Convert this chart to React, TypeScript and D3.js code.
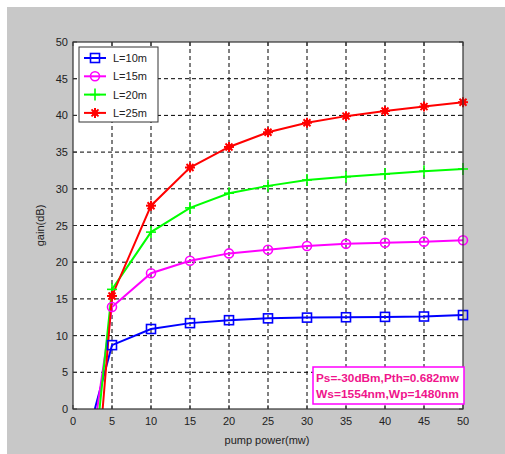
import React from "react";
import * as d3 from "d3";

const pumpPower = [5, 10, 15, 20, 25, 30, 35, 40, 45, 50];
const gainL10 = [8.7, 10.9, 11.7, 12.1, 12.35, 12.45, 12.5, 12.55, 12.6, 12.8];
const gainL15 = [13.9, 18.5, 20.2, 21.2, 21.7, 22.2, 22.5, 22.65, 22.8, 23.0];
const gainL20 = [16.3, 24.1, 27.4, 29.4, 30.4, 31.2, 31.65, 32.0, 32.4, 32.7];
const gainL25 = [15.4, 27.7, 32.9, 35.7, 37.7, 39.0, 39.9, 40.6, 41.2, 41.8];
// pump power where each curve crosses 0 dB (threshold start of line)
const zeroCross = [2.8, 3.1, 3.4, 3.8];
const seriesNames = ["L=10m", "L=15m", "L=20m", "L=25m"];
const seriesColors = ["#0000ff", "#ff00ff", "#00ff00", "#ff0000"];
const markerTypes = ["square", "circle", "plus", "star"];
const xTicks = [0, 5, 10, 15, 20, 25, 30, 35, 40, 45, 50];
const yTicks = [0, 5, 10, 15, 20, 25, 30, 35, 40, 45, 50];
const annotation = ["Ps=-30dBm,Pth=0.682mw", "Ws=1554nm,Wp=1480nm"];

function Marker({ type, x, y, color }: { type: string; x: number; y: number; color: string }) {
  if (type === "square")
    return <rect x={x - 4.5} y={y - 4.5} width={9} height={9} fill="none" stroke={color} strokeWidth={1.6} />;
  if (type === "circle")
    return <circle cx={x} cy={y} r={4.5} fill="none" stroke={color} strokeWidth={1.6} />;
  if (type === "plus")
    return (
      <g stroke={color} strokeWidth={1.6}>
        <line x1={x - 5} x2={x + 5} y1={y} y2={y} />
        <line x1={x} x2={x} y1={y - 6} y2={y + 6} />
      </g>
    );
  return (
    <g stroke={color} strokeWidth={2}>
      <line x1={x - 5} x2={x + 5} y1={y} y2={y} />
      <line x1={x} x2={x} y1={y - 5} y2={y + 5} />
      <line x1={x - 3.5} x2={x + 3.5} y1={y - 3.5} y2={y + 3.5} />
      <line x1={x - 3.5} x2={x + 3.5} y1={y + 3.5} y2={y - 3.5} />
      <circle cx={x} cy={y} r={3} fill={color} stroke="none" />
    </g>
  );
}

export default function App() {
  const W = 505, H = 454;
  const left = 73, right = 463, top = 42, bottom = 409;
  const x = d3.scaleLinear().domain([0, 50]).range([left, right]);
  const y = d3.scaleLinear().domain([0, 50]).range([bottom, top]);
  const all = [gainL10, gainL15, gainL20, gainL25];
  const line = d3.line<[number, number]>().x((d) => x(d[0])).y((d) => y(d[1]));
  const font = "'Liberation Sans', Arial, sans-serif";

  return (
    <svg width={W} height={H} style={{ position: "absolute", left: 0, top: 0 }}>
      <rect x={0} y={0} width={W} height={H} fill="#ffffff" />
      <rect x={7} y={7} width={W - 7} height={H - 7} fill="#c8c8c8" />
      <rect x={left} y={top} width={right - left} height={bottom - top} fill="#ffffff" />
      {/* grid */}
      <g stroke="#000" strokeWidth={1} strokeDasharray="4,3">
        {xTicks.filter((t) => t > 0 && t < 50).map((t) => (
          <line key={"gx" + t} x1={x(t)} x2={x(t)} y1={top} y2={bottom} />
        ))}
        {yTicks.filter((t) => t > 0 && t < 50).map((t) => (
          <line key={"gy" + t} x1={left} x2={right} y1={y(t)} y2={y(t)} />
        ))}
      </g>
      {/* series */}
      <g clipPath="url(#clip)">
        <clipPath id="clip">
          <rect x={left} y={top} width={right - left} height={bottom - top} />
        </clipPath>
        {all.map((vals, i) => {
          const pts: [number, number][] = [[zeroCross[i], 0], ...pumpPower.map((p, j) => [p, vals[j]] as [number, number])];
          return <path key={"s" + i} d={line(pts) || ""} fill="none" stroke={seriesColors[i]} strokeWidth={2} />;
        })}
      </g>
      {all.map((vals, i) =>
        pumpPower.map((p, j) => (
          <Marker key={"m" + i + "-" + j} type={markerTypes[i]} x={x(p)} y={y(vals[j])} color={seriesColors[i]} />
        ))
      )}
      {/* axes box */}
      <rect x={left} y={top} width={right - left} height={bottom - top} fill="none" stroke="#333" strokeWidth={1.2} />
      {/* ticks */}
      <g stroke="#333" strokeWidth={1}>
        {xTicks.map((t) => (
          <g key={"tx" + t}>
            <line x1={x(t)} x2={x(t)} y1={bottom} y2={bottom - 4} />
            <line x1={x(t)} x2={x(t)} y1={top} y2={top + 4} />
          </g>
        ))}
        {yTicks.map((t) => (
          <g key={"ty" + t}>
            <line x1={left} x2={left + 4} y1={y(t)} y2={y(t)} />
            <line x1={right} x2={right - 4} y1={y(t)} y2={y(t)} />
          </g>
        ))}
      </g>
      <g fontFamily={font} fontSize={11} fill="#222">
        {xTicks.map((t) => (
          <text key={"lx" + t} x={x(t)} y={bottom + 16} textAnchor="middle">{t}</text>
        ))}
        {yTicks.map((t) => (
          <text key={"ly" + t} x={left - 5} y={y(t) + 4} textAnchor="end">{t}</text>
        ))}
        <text x={(left + right) / 2 - 1} y={444} textAnchor="middle">pump power(mw)</text>
        <text transform={`translate(44,${(top + bottom) / 2}) rotate(-90)`} textAnchor="middle">gain(dB)</text>
      </g>
      {/* legend */}
      <g>
        <rect x={79} y={47} width={79} height={75} fill="#fff" stroke="#333" strokeWidth={1} />
        {seriesNames.map((name, i) => {
          const ly = 58 + i * 18.3;
          return (
            <g key={"lg" + i}>
              <line x1={84} x2={106} y1={ly} y2={ly} stroke={seriesColors[i]} strokeWidth={2} />
              <Marker type={markerTypes[i]} x={95} y={ly} color={seriesColors[i]} />
              <text x={113} y={ly + 4} fontFamily={font} fontSize={11} fill="#222">{name}</text>
            </g>
          );
        })}
      </g>
      {/* annotation */}
      <g>
        <rect x={313} y={367} width={151} height={37} fill="#fff" stroke="#ff00ff" strokeWidth={1.5} />
        {annotation.map((t, i) => (
          <text key={"an" + i} x={316} y={382 + i * 16} fontFamily={font} fontSize={11} fontWeight="bold" fill="#f0148c" textLength={143} lengthAdjust="spacingAndGlyphs">{t}</text>
        ))}
      </g>
    </svg>
  );
}
